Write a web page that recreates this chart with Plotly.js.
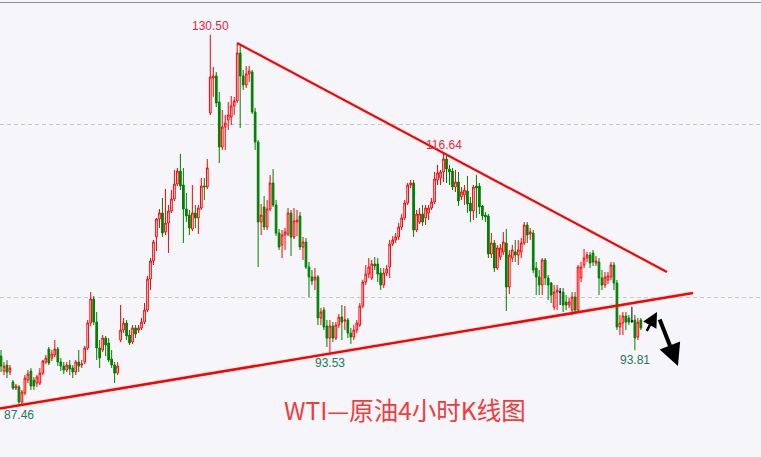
<!DOCTYPE html>
<html>
<head>
<meta charset="utf-8">
<script src="https://cdn.plot.ly/plotly-3.0.1.min.js"></script>
<style>html,body{margin:0;padding:0;background:#f5f5fa;}#chart{width:761px;height:457px;}</style>
</head>
<body>
<div id="chart"></div>
<script>
// 4-hour WTI candles (price values)
const opens = [93.14,91.39,92.09,91.28,90.12,89.42,89.54,87.79,88.84,90.35,
91.39,90.35,90.00,90.00,91.16,92.44,93.95,92.90,93.26,93.95,
92.44,91.97,91.51,92.09,91.74,91.28,92.44,92.09,92.44,94.07,
96.98,99.77,97.09,94.07,93.84,95.23,94.65,92.79,92.09,91.16,
95.00,96.16,96.98,95.58,94.77,96.40,96.16,96.40,97.09,98.49,
102.09,104.19,106.98,109.07,109.77,107.56,108.60,110.00,111.40,113.14,
114.65,113.02,110.23,109.53,107.91,109.77,109.19,110.35,112.91,112.79,
121.40,125.47,125.70,122.67,117.44,119.77,120.58,120.93,122.21,122.79,
128.37,125.70,124.65,125.93,126.16,121.51,118.02,108.72,110.47,108.14,
110.23,113.26,110.70,107.44,106.05,107.21,107.33,109.77,106.98,108.72,
109.42,105.81,106.40,103.49,102.33,101.98,102.33,97.56,98.49,96.63,
95.23,96.63,95.23,96.74,97.67,97.21,97.33,95.81,95.35,96.16,
96.74,98.95,101.74,102.67,102.21,103.84,103.84,102.79,101.40,102.79,
103.49,106.16,106.63,106.98,108.14,109.19,110.93,113.02,113.26,107.79,
108.72,109.65,109.19,109.77,110.35,111.05,113.60,113.84,114.53,116.05,
114.88,114.65,112.79,113.37,111.63,111.86,112.33,110.93,110.00,112.91,
112.91,110.58,109.53,109.42,105.00,106.28,103.37,104.65,105.23,106.28,
101.16,104.53,105.23,104.88,105.23,106.28,108.37,107.33,107.44,103.37,
102.33,101.40,104.30,102.21,101.63,98.84,100.58,100.58,100.58,99.42,
99.07,98.49,100.00,98.49,102.21,103.72,104.53,104.88,105.12,103.95,
104.07,102.21,101.40,101.98,102.33,103.72,101.63,96.51,96.98,97.79,
97.56,97.21,97.33,95.35,97.33];

const highs = [93.84,92.44,92.67,92.09,90.35,89.89,89.77,89.19,90.93,91.51,
91.74,90.70,90.93,91.74,92.67,93.26,94.19,93.84,95.00,94.19,
92.90,92.44,92.44,92.67,92.09,92.67,93.84,92.67,94.30,97.33,
100.58,100.12,98.26,95.00,95.58,95.47,95.23,93.84,92.44,92.44,
99.07,97.56,97.33,96.16,96.74,96.74,96.74,97.56,99.30,102.44,
104.53,106.63,109.19,110.23,111.51,112.56,110.70,112.44,114.77,115.00,
116.63,115.00,112.09,110.12,113.02,110.70,110.70,113.84,113.84,116.05,
130.50,126.74,126.16,123.84,121.74,121.16,122.67,123.37,123.26,129.42,
129.19,126.40,126.86,126.86,126.40,121.98,118.26,110.81,111.74,111.28,
114.19,114.88,111.28,107.91,107.79,108.02,110.35,110.12,110.35,110.12,
109.88,106.98,106.86,104.07,103.14,103.37,102.56,98.72,98.84,97.33,
97.33,97.09,97.09,98.02,99.07,98.95,97.56,96.40,96.74,97.33,
99.30,101.98,103.72,104.53,104.30,104.65,104.53,103.37,103.37,103.72,
106.63,107.09,107.44,108.60,109.65,111.28,113.26,113.60,113.60,110.12,
110.35,110.70,110.70,110.70,111.51,114.53,115.35,114.77,116.64,116.51,
115.35,115.00,114.77,114.53,112.79,113.02,114.07,111.63,113.02,114.19,
113.26,110.70,109.88,109.65,107.44,106.63,106.05,106.16,107.56,107.91,
105.47,106.05,106.63,106.63,106.86,108.72,108.72,108.02,107.79,104.07,
103.14,104.53,104.53,102.56,101.74,101.40,101.40,101.05,101.05,100.23,
99.88,100.58,100.58,103.72,104.07,105.58,105.23,105.23,105.47,104.77,
104.53,103.14,102.91,102.91,104.07,104.07,101.98,97.91,98.26,98.26,
97.91,98.84,97.91,97.56,97.56];

const lows = [91.28,90.93,90.58,90.93,89.19,89.19,87.46,87.56,88.60,90.00,
89.19,89.19,89.54,89.77,90.93,92.21,92.09,92.56,93.02,91.97,
91.39,91.04,91.28,90.93,90.58,90.93,91.28,91.74,92.21,93.84,
96.63,96.74,92.67,91.74,93.60,93.14,92.44,91.74,90.00,90.93,
94.77,95.81,95.00,94.42,94.54,95.23,95.81,96.16,96.86,98.26,
100.81,103.72,105.35,108.02,106.98,107.21,105.12,109.77,111.16,112.91,
112.44,106.28,108.72,107.21,107.67,108.02,107.33,110.12,111.28,112.56,
121.16,123.26,122.09,115.58,117.09,117.09,119.42,120.00,121.16,122.56,
119.65,124.07,124.30,125.00,121.28,117.09,103.49,107.21,107.79,107.79,
110.00,110.47,107.09,105.47,104.53,105.47,107.09,104.77,106.74,107.09,
105.47,104.30,103.26,100.00,101.40,100.81,96.74,96.74,96.16,94.19,
93.53,94.77,95.00,96.40,95.00,96.16,95.23,94.54,95.00,95.81,
96.51,98.72,101.40,102.21,101.98,103.14,101.74,100.81,101.05,102.44,
102.21,105.93,106.28,106.63,107.79,108.95,110.70,112.67,106.98,107.56,
108.49,108.26,108.37,108.95,110.12,110.81,113.02,113.02,113.37,113.26,
113.02,112.44,112.21,110.58,111.28,110.70,109.77,108.72,108.95,109.19,
109.65,108.95,108.72,104.53,104.53,102.91,103.14,104.30,104.88,98.37,
100.35,104.07,104.07,103.72,104.53,106.05,106.28,106.63,102.79,100.23,
100.23,100.23,101.40,99.65,99.30,98.49,98.49,99.07,98.26,98.49,
98.72,97.91,98.02,98.26,101.74,103.37,104.07,103.37,103.60,103.60,
100.23,100.81,101.05,101.51,101.98,100.81,96.16,95.58,95.58,96.16,
96.74,96.98,93.81,95.00,96.16];

const closes = [91.97,91.97,91.28,91.74,89.42,89.65,87.79,88.95,90.58,91.04,
89.65,89.65,90.70,91.16,92.56,92.90,92.33,93.37,93.95,92.44,
91.97,91.51,92.09,91.63,91.28,92.44,91.97,92.21,94.07,96.98,
99.77,97.09,94.07,92.90,95.23,94.42,92.67,92.09,91.16,91.97,
96.16,96.98,95.47,94.65,96.40,95.70,96.40,97.09,98.49,102.09,
104.19,106.40,109.07,109.77,107.44,108.60,110.00,111.40,113.14,114.65,
112.91,110.23,109.42,108.02,109.77,109.19,110.35,112.91,112.79,115.00,
125.58,125.70,122.56,117.44,119.77,120.23,121.16,122.21,122.79,128.37,
125.70,124.65,125.93,126.28,121.51,118.02,108.72,109.53,108.14,110.23,
113.26,110.70,107.44,105.81,107.21,107.56,109.77,106.98,108.84,108.95,
105.81,106.40,103.49,102.33,101.86,102.33,97.56,98.26,96.51,95.23,
96.63,95.23,96.74,97.67,97.09,97.33,95.81,95.35,96.16,96.98,
98.95,101.74,102.67,103.49,103.84,103.60,102.67,101.40,102.79,103.26,
106.16,106.63,106.98,108.14,109.19,110.93,113.02,113.26,107.79,109.65,
109.65,108.72,110.35,110.35,111.05,113.72,114.42,114.53,116.05,114.88,
114.53,112.79,113.37,111.16,112.21,112.44,110.81,110.00,112.79,112.67,
110.47,109.42,109.30,105.00,106.28,103.37,105.70,105.70,106.40,101.16,
104.88,105.47,104.88,105.47,106.28,108.37,107.21,107.56,103.14,102.33,
101.40,104.30,102.21,101.40,100.23,100.58,100.81,100.58,99.07,99.07,
99.42,100.00,98.49,103.49,103.49,104.53,104.88,103.95,104.07,104.19,
102.21,101.40,102.33,102.44,103.72,101.63,96.51,96.98,97.79,97.09,
97.09,97.21,95.23,97.09,96.40];

// marked extremes
const labelTexts = ['130.50', '116.64', '87.46', '93.53', '93.81'];
const labelBars  = [70, 148, 6, 110, 212];
const labelSides = ['high', 'high', 'low', 'low', 'low'];

// trendlines (bar index, price)
const upperLineBars = [78.93, 222.74];
const upperLinePrices = [129.53, 102.91];
const lowerLineBars = [-0.34, 231.44];
const lowerLinePrices = [87.03, 100.47];

// arrows: [tail bar, tail price, head bar, head price]
const arrowUp = [215.7, 95.90, 219.4, 98.26];
const arrowDown = [220.1, 97.56, 226.4, 91.98];

const gridPrices = [100, 120];
const chartTitle = 'WTI—原油4小时K线图';

const BG = '#f5f5fa';
const idx = opens.map((_, i) => i);
const isDoji = idx.map(i => opens[i] === closes[i]);
const pick = (arr, want) => arr.filter((_, i) => isDoji[i] === want);

const mainTrace = {
  type: 'candlestick',
  x: pick(idx, false), open: pick(opens, false), high: pick(highs, false),
  low: pick(lows, false), close: pick(closes, false),
  increasing: {line: {color: '#ff0000', width: 1}, fillcolor: BG},
  decreasing: {line: {color: '#008000', width: 1}, fillcolor: '#008000'},
  whiskerwidth: 0, hoverinfo: 'skip'
};
const dojiTrace = {
  type: 'candlestick',
  x: pick(idx, true), open: pick(opens, true), high: pick(highs, true),
  low: pick(lows, true), close: pick(closes, true),
  increasing: {line: {color: '#000000', width: 1}, fillcolor: '#000000'},
  decreasing: {line: {color: '#000000', width: 1}, fillcolor: '#000000'},
  whiskerwidth: 0, hoverinfo: 'skip'
};
const upperTrace = {type: 'scatter', mode: 'lines', x: upperLineBars, y: upperLinePrices,
  line: {color: '#ff0000', width: 2.2}, hoverinfo: 'skip'};
const lowerTrace = {type: 'scatter', mode: 'lines', x: lowerLineBars, y: lowerLinePrices,
  line: {color: '#ff0000', width: 2.6}, hoverinfo: 'skip'};

const annotations = labelTexts.map((t, k) => {
  const b = labelBars[k];
  const isHigh = labelSides[k] === 'high';
  return {
    x: b, y: isHigh ? highs[b] : lows[b], xref: 'x', yref: 'y',
    text: t, showarrow: false, xanchor: 'center',
    yanchor: isHigh ? 'bottom' : 'top', yshift: isHigh ? 0 : -1,
    font: {family: 'Liberation Sans, Arial, sans-serif', size: 12,
           color: isHigh ? '#e8283c' : '#237a57'}
  };
});
annotations.push({
  x: arrowUp[2], y: arrowUp[3], ax: arrowUp[0], ay: arrowUp[1],
  xref: 'x', yref: 'y', axref: 'x', ayref: 'y', text: '', showarrow: true,
  arrowhead: 2, arrowsize: 1.2, arrowwidth: 2.5, arrowcolor: '#000000', standoff: 0
});
annotations.push({
  x: arrowDown[2], y: arrowDown[3], ax: arrowDown[0], ay: arrowDown[1],
  xref: 'x', yref: 'y', axref: 'x', ayref: 'y', text: '', showarrow: true,
  arrowhead: 2, arrowsize: 1.1, arrowwidth: 4, arrowcolor: '#000000', standoff: 0
});
annotations.push({
  x: 0.532, y: 0.103, xref: 'paper', yref: 'paper', text: chartTitle,
  showarrow: false, xanchor: 'center', yanchor: 'middle',
  font: {family: 'Noto Sans CJK SC, sans-serif', size: 24.5, color: '#f03c3c'}
});

const layout = {
  width: 761, height: 457,
  margin: {l: 0, r: 0, t: 0, b: 0, pad: 0},
  paper_bgcolor: BG, plot_bgcolor: BG,
  showlegend: false, hovermode: false,
  boxgap: 0.2,
  xaxis: {range: [-0.334, 254.18], showgrid: false, zeroline: false,
          showticklabels: false, ticks: '', showline: false,
          rangeslider: {visible: false}, fixedrange: true},
  yaxis: {range: [81.40, 134.53], tickvals: gridPrices, showticklabels: false,
          ticks: '', showgrid: true, gridcolor: '#c8c8c8', griddash: '4px,3px',
          gridwidth: 1, zeroline: false, showline: false, fixedrange: true},
  shapes: [{type: 'line', xref: 'paper', yref: 'paper', x0: 0, x1: 1,
            y0: 0.99453, y1: 0.99453, line: {color: '#8c8c8c', width: 1}}],
  annotations: annotations
};

Plotly.newPlot('chart', [mainTrace, dojiTrace, lowerTrace, upperTrace], layout,
  {staticPlot: true, displayModeBar: false});
</script>
</body>
</html>
